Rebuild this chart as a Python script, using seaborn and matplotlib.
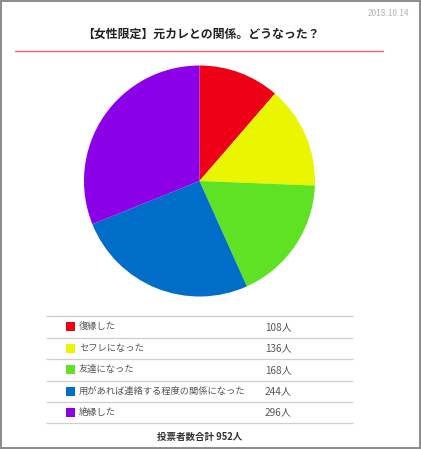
import numpy as np
import pandas as pd
import matplotlib
matplotlib.use('Agg')
import matplotlib.pyplot as plt
import seaborn as sns
from matplotlib.patches import Rectangle

# データ
labels = ['復縁した', 'セフレになった', '友達になった', '用があれば連絡する程度の関係になった', '絶縁した']
votes = [108, 136, 168, 244, 296]
colors = ['#EE0016', '#EAF500', '#5EE223', '#006EC8', '#8C00E8']
title = '【女性限定】元カレとの関係。どうなった？'
date_text = '2018.10.14'

df = pd.DataFrame({'label': labels, 'votes': votes, 'color': colors})
total = df['votes'].sum()

sns.set_theme(style='white')
plt.rcParams['font.family'] = ['Noto Sans CJK JP', 'DejaVu Sans']

W, H = 421, 450
fig = plt.figure(figsize=(W / 100, H / 100), dpi=100)
fig.patch.set_facecolor('white')

# 全体のレイアウト用（ピクセル座標）
bg = fig.add_axes([0, 0, 1, 1])
bg.set_xlim(0, W)
bg.set_ylim(H, 0)
bg.axis('off')

# 外枠
bg.add_patch(Rectangle((0.8, 0.8), W - 1.6, 447.5, fill=False, edgecolor='#8a8a8a', linewidth=1.4))

bg.text(409, 14, date_text, ha='right', va='center', fontsize=6.0, color='#b5b5b5')
bg.text(201, 34, title, ha='center', va='center', fontsize=8.6, fontweight='bold', color='#222222')
bg.plot([15, 383], [51, 51], color='#EE6A5E', linewidth=1.0)

# 円グラフ
cx, cy, r = 199.5, 181, 115.5
pie_ax = fig.add_axes([(cx - r) / W, 1 - (cy + r) / H, 2 * r / W, 2 * r / H])
pie_ax.pie(df['votes'], colors=df['color'], startangle=90, counterclock=False,
           radius=1, wedgeprops={'linewidth': 0})
pie_ax.set_xlim(-1, 1)
pie_ax.set_ylim(-1, 1)
pie_ax.set_aspect('auto')
pie_ax.axis('off')

# 表
row_lines = [316, 337.5, 359, 380.5, 402, 423]
bg.hlines(row_lines, 46, 353, color='#cfcfcf', linewidth=0.9)
for i, row in df.iterrows():
    y = (row_lines[i] + row_lines[i + 1]) / 2
    bg.add_patch(Rectangle((66, y - 4.5), 9, 9, facecolor=row['color'], edgecolor='none'))
    bg.text(79, y, row['label'], ha='left', va='center', fontsize=6.7, color='#555555')
    bg.text(265, y, f"{row['votes']}人", ha='left', va='center', fontsize=7.2, color='#555555')

bg.text(200, 437, f'投票者数合計 {total}人', ha='center', va='center', fontsize=6.8,
        fontweight='bold', color='#333333')

fig.savefig('out.png', dpi=100, facecolor='white')
